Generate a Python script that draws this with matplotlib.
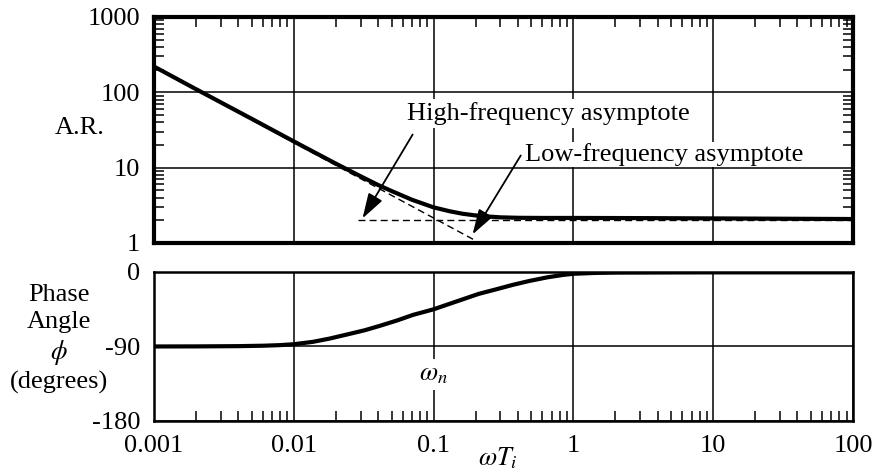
import matplotlib
matplotlib.use('Agg')
import matplotlib.pyplot as plt
from matplotlib.ticker import NullFormatter, LogLocator

plt.rcParams['font.family'] = ['Liberation Serif', 'DejaVu Serif']
plt.rcParams['mathtext.fontset'] = 'stix'

# amplitude ratio curve
w_ar = [0.001, 0.002, 0.005, 0.01, 0.02, 0.03, 0.04, 0.05, 0.07, 0.1, 0.13, 0.16,
        0.2, 0.25, 0.3, 0.4, 0.6, 1, 3, 10, 30, 100]
ar = [220, 110, 44.5, 22.3, 11.3, 7.7, 5.9, 4.9, 3.75, 2.97, 2.64, 2.45,
      2.32, 2.24, 2.19, 2.16, 2.15, 2.15, 2.14, 2.12, 2.1, 2.08]

# asymptotes
w_slope = [0.001, 0.195]
ar_slope = [215, 1.1]
w_flat = [0.029, 100]
ar_flat = [2.0, 2.0]

# phase angle curve
w_ph = [0.001, 0.002, 0.004, 0.006, 0.0079, 0.01, 0.0137, 0.018, 0.0238, 0.032, 0.041,
        0.055, 0.0711, 0.1, 0.13, 0.162, 0.21, 0.281, 0.37, 0.483, 0.65, 0.84,
        1.0, 1.4, 2, 5, 10, 100]
phase = [-90, -89.9, -89.6, -89.1, -88.4, -87.3, -84.4, -80.5, -75.7, -70.5, -65.2,
         -58.5, -51.9, -45.1, -38.5, -33, -26.5, -20.9, -15.5, -10.9, -6.5, -3.6,
         -2.2, -1.2, -0.8, -0.6, -0.5, -0.5]

xticks = [0.001, 0.01, 0.1, 1, 10, 100]
xlabels = ['0.001', '0.01', '0.1', '1', '10', '100']
ar_ticks = [1, 10, 100, 1000]
ar_labels = ['1', '10', '100', '1000']
ph_ticks = [-180, -90, 0]
ph_labels = ['-180', '-90', '0']

fs = 19

fig = plt.figure(figsize=(8.73, 4.72), dpi=100)
ax1 = fig.add_axes([0.1764, 0.4852, 0.8007, 0.4788])
ax2 = fig.add_axes([0.1764, 0.1081, 0.8007, 0.3157])

# ---- amplitude ratio
ax1.set_xscale('log')
ax1.set_yscale('log')
ax1.plot(w_ar, ar, color='k', lw=3, solid_joinstyle='round')
ax1.plot(w_slope, ar_slope, color='k', lw=1, ls=(0, (5, 3)))
ax1.plot(w_flat, ar_flat, color='k', lw=1, ls=(0, (5, 3)))
ax1.set_xlim(0.001, 100)
ax1.set_ylim(1, 1000)
ax1.set_xticks(xticks)
ax1.set_xticklabels([])
ax1.set_yticks(ar_ticks)
ax1.set_yticklabels(ar_labels, fontsize=fs)
ax1.yaxis.set_minor_locator(LogLocator(base=10, subs=range(2, 10)))
ax1.xaxis.set_minor_locator(LogLocator(base=10, subs=range(2, 10)))
ax1.xaxis.set_minor_formatter(NullFormatter())
ax1.yaxis.set_minor_formatter(NullFormatter())
ax1.tick_params(which='major', length=0, pad=10)
ax1.tick_params(which='minor', direction='in', length=7, width=1.1,
                left=True, right=True, top=True, bottom=False)
ax1.set_axisbelow(True)
ax1.grid(True, which='major', color='k', lw=1.1)
for s in ax1.spines.values():
    s.set_linewidth(3)

ax1.text(0.064, 52.5, 'High-frequency asymptote', fontsize=fs, ha='left', va='center',
         bbox=dict(fc='white', ec='none', pad=2), zorder=4)
ax1.text(0.447, 14.9, 'Low-frequency asymptote', fontsize=fs, ha='left', va='center',
         bbox=dict(fc='white', ec='none', pad=1), zorder=4)
arrow_style = '-|>,head_length=0.7,head_width=0.22'
ax1.annotate('', xy=(0.031, 2.12), xytext=(0.0708, 27.5),
             arrowprops=dict(arrowstyle=arrow_style, color='k', lw=1.3, mutation_scale=22,
                             shrinkA=0, shrinkB=0), zorder=5)
ax1.annotate('', xy=(0.19, 1.3), xytext=(0.42, 14.5),
             arrowprops=dict(arrowstyle=arrow_style, color='k', lw=1.3, mutation_scale=22,
                             shrinkA=0, shrinkB=0), zorder=5)
fig.text(0.0916, 0.729, 'A.R.', fontsize=fs, ha='center', va='center')

# ---- phase angle
ax2.set_xscale('log')
ax2.plot(w_ph, phase, color='k', lw=3, solid_joinstyle='round')
ax2.set_xlim(0.001, 100)
ax2.set_ylim(-180, 0)
ax2.set_xticks(xticks)
ax2.set_xticklabels(xlabels, fontsize=fs)
ax2.set_yticks(ph_ticks)
ax2.set_yticklabels(ph_labels, fontsize=fs)
ax2.xaxis.set_minor_locator(LogLocator(base=10, subs=range(2, 10)))
ax2.xaxis.set_minor_formatter(NullFormatter())
ax2.tick_params(which='major', length=0, pad=10)
ax2.tick_params(which='minor', direction='in', length=7, width=1.1,
                bottom=True, top=False, left=False, right=False)
ax2.set_axisbelow(True)
ax2.grid(True, which='major', color='k', lw=1.1)
for s in ax2.spines.values():
    s.set_linewidth(1.8)

ax2.text(0.1, -124, r'$\omega_n$', fontsize=fs, ha='center', va='center',
         bbox=dict(fc='white', ec='none', pad=3), zorder=4)
fig.text(0.0676, 0.281, 'Phase\nAngle\n$\\phi$\n(degrees)', fontsize=fs,
         ha='center', va='center', linespacing=1.25)
fig.text(498 / 873, 1 - 458 / 472, r'$\omega T_i$', fontsize=fs, ha='center', va='center')

fig.savefig('out.png', dpi=100)
